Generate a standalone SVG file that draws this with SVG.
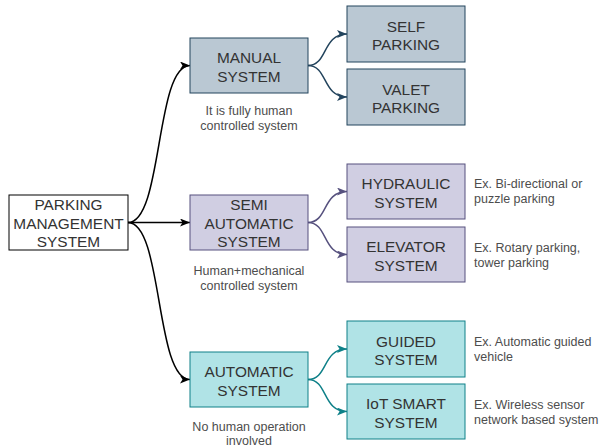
<svg xmlns="http://www.w3.org/2000/svg" width="599" height="447" viewBox="0 0 599 447">
<defs>
<style>
.t{font-family:"Liberation Sans",Arial,sans-serif;font-size:15.4px;fill:#333333;text-anchor:middle}
.s{font-family:"Liberation Sans",Arial,sans-serif;font-size:12.5px;fill:#4d4d4d}
.c{text-anchor:middle}
.man{fill:#bac8d3;stroke:#23445d;stroke-width:1}
.semi{fill:#d0cee2;stroke:#56517e;stroke-width:1}
.auto{fill:#b0e3e6;stroke:#0e8088;stroke-width:1}
.e{fill:none;stroke-width:1.5}
</style>
<marker id="aK" markerUnits="userSpaceOnUse" markerWidth="10" markerHeight="8" refX="10" refY="4" orient="auto"><path d="M0,0 L10,4 L0,8 L2.5,4 Z" fill="#000"/></marker>
<marker id="aM" markerUnits="userSpaceOnUse" markerWidth="10" markerHeight="8" refX="10" refY="4" orient="auto"><path d="M0,0 L10,4 L0,8 L2.5,4 Z" fill="#23445d"/></marker>
<marker id="aS" markerUnits="userSpaceOnUse" markerWidth="10" markerHeight="8" refX="10" refY="4" orient="auto"><path d="M0,0 L10,4 L0,8 L2.5,4 Z" fill="#56517e"/></marker>
<marker id="aA" markerUnits="userSpaceOnUse" markerWidth="10" markerHeight="8" refX="10" refY="4" orient="auto"><path d="M0,0 L10,4 L0,8 L2.5,4 Z" fill="#0e8088"/></marker>
</defs>
<rect width="599" height="447" fill="#ffffff"/>
<g id="connectors">
<path class="e" stroke="#000" d="M128,222.5 C163,222.5 155,65.5 190,65.5" marker-end="url(#aK)"/>
<path class="e" stroke="#000" d="M128,222.5 L190,222.5" marker-end="url(#aK)"/>
<path class="e" stroke="#000" d="M128,222.5 C163,222.5 155,379.5 190,379.5" marker-end="url(#aK)"/>
<path class="e" stroke="#23445d" d="M308,65.5 C328,65.5 322,34 347,34" marker-end="url(#aM)"/>
<path class="e" stroke="#23445d" d="M308,65.5 C328,65.5 322,97 347,97" marker-end="url(#aM)"/>
<path class="e" stroke="#56517e" d="M308,222.5 C328,222.5 322,191.5 347,191.5" marker-end="url(#aS)"/>
<path class="e" stroke="#56517e" d="M308,222.5 C328,222.5 322,254.5 347,254.5" marker-end="url(#aS)"/>
<path class="e" stroke="#0e8088" d="M308,379.5 C328,379.5 322,349 347,349" marker-end="url(#aA)"/>
<path class="e" stroke="#0e8088" d="M308,379.5 C328,379.5 322,411.5 347,411.5" marker-end="url(#aA)"/>
</g>
<g id="parking-management">
<rect x="9" y="195" width="119" height="55" fill="#ffffff" stroke="#000000" stroke-width="1"/>
<text class="t" x="68.5" y="210">PARKING</text>
<text class="t" x="68.5" y="228.5">MANAGEMENT</text>
<text class="t" x="68.5" y="247">SYSTEM</text>
</g>
<g id="manual">
<rect class="man" x="190" y="38" width="118" height="55"/>
<text class="t" x="249" y="63">MANUAL</text>
<text class="t" x="249" y="81.5">SYSTEM</text>
<text class="s c" x="249" y="115">It is fully human</text>
<text class="s c" x="249" y="130">controlled system</text>
</g>
<g id="self-parking">
<rect class="man" x="347" y="6" width="118" height="56"/>
<text class="t" x="406" y="31.5">SELF</text>
<text class="t" x="406" y="50">PARKING</text>
</g>
<g id="valet-parking">
<rect class="man" x="347" y="69" width="118" height="56"/>
<text class="t" x="406" y="94.5">VALET</text>
<text class="t" x="406" y="113">PARKING</text>
</g>
<g id="semi-automatic">
<rect class="semi" x="190" y="195" width="118" height="55"/>
<text class="t" x="249" y="210">SEMI</text>
<text class="t" x="249" y="228.5">AUTOMATIC</text>
<text class="t" x="249" y="247">SYSTEM</text>
<text class="s c" x="249" y="275">Human+mechanical</text>
<text class="s c" x="249" y="290">controlled system</text>
</g>
<g id="hydraulic">
<rect class="semi" x="347" y="164" width="118" height="55"/>
<text class="t" x="406" y="189">HYDRAULIC</text>
<text class="t" x="406" y="207.5">SYSTEM</text>
<text class="s" x="474" y="188">Ex. Bi-directional or</text>
<text class="s" x="474" y="203">puzzle parking</text>
</g>
<g id="elevator">
<rect class="semi" x="347" y="227" width="118" height="55"/>
<text class="t" x="406" y="252">ELEVATOR</text>
<text class="t" x="406" y="270.5">SYSTEM</text>
<text class="s" x="474" y="252">Ex. Rotary parking,</text>
<text class="s" x="474" y="267">tower parking</text>
</g>
<g id="automatic">
<rect class="auto" x="190" y="352" width="118" height="55"/>
<text class="t" x="249" y="377">AUTOMATIC</text>
<text class="t" x="249" y="395.5">SYSTEM</text>
<text class="s c" x="249" y="431">No human operation</text>
<text class="s c" x="249" y="444.5">involved</text>
</g>
<g id="guided">
<rect class="auto" x="347" y="321" width="118" height="56"/>
<text class="t" x="406" y="346.5">GUIDED</text>
<text class="t" x="406" y="365">SYSTEM</text>
<text class="s" x="474" y="346">Ex. Automatic guided</text>
<text class="s" x="474" y="361">vehicle</text>
</g>
<g id="iot-smart">
<rect class="auto" x="347" y="384" width="118" height="55"/>
<text class="t" x="406" y="409">IoT SMART</text>
<text class="t" x="406" y="427.5">SYSTEM</text>
<text class="s" x="474" y="409">Ex. Wireless sensor</text>
<text class="s" x="474" y="424">network based system</text>
</g>
</svg>
